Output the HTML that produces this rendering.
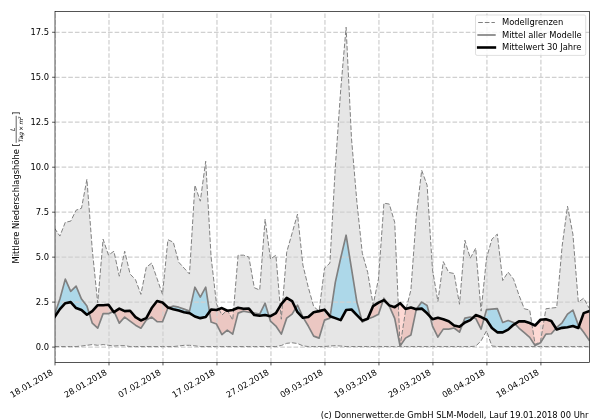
<!DOCTYPE html>
<html lang="de"><head><meta charset="utf-8"><title>Niederschlag</title><style>html,body{margin:0;padding:0;background:#fff;overflow:hidden}</style></head><body>
<svg width="600" height="420" viewBox="0 0 600 420" style="display:block;font-family:'DejaVu Sans','Liberation Sans',sans-serif;font-size:8.37px">
<rect width="600" height="420" fill="#fff"/>
<defs><clipPath id="ax"><rect x="55.0" y="11.6" width="534.5" height="350.9"/></clipPath></defs>
<g clip-path="url(#ax)">
<polygon points="54.50,228.19 59.90,236.10 65.30,222.25 70.70,221.17 76.10,210.20 81.50,208.22 86.90,179.25 92.30,249.95 97.70,303.02 103.10,239.16 108.50,255.17 113.90,251.21 119.30,276.22 124.70,251.21 130.10,274.06 135.50,279.64 140.90,294.39 146.30,267.22 151.70,263.09 157.10,278.74 162.50,294.39 167.90,239.70 173.30,242.22 178.70,262.19 184.10,268.12 189.50,274.06 194.90,185.19 200.30,201.20 205.70,161.26 211.10,257.15 216.50,303.92 221.90,315.08 227.30,310.04 232.70,320.12 238.10,255.17 243.50,255.17 248.90,257.15 254.30,287.73 259.70,290.07 265.10,219.19 270.50,259.13 275.90,255.17 281.30,319.22 286.70,252.11 292.10,233.22 297.50,214.15 302.90,265.07 308.30,287.37 313.70,306.62 319.10,311.12 324.50,268.12 329.90,263.09 335.30,167.20 340.70,89.84 346.10,27.24 351.50,138.42 356.90,202.10 362.30,253.19 367.70,272.44 373.10,304.82 378.50,278.92 383.90,203.18 389.30,204.08 394.70,222.25 400.10,346.20 405.50,311.12 410.90,290.07 416.30,215.77 421.70,170.26 427.10,185.19 432.50,269.74 437.90,301.41 443.30,261.65 448.70,272.44 454.10,273.52 459.50,304.28 464.90,240.24 470.30,258.23 475.70,248.16 481.10,311.12 486.50,258.23 491.90,239.16 497.30,234.12 502.70,280.54 508.10,272.08 513.50,279.10 518.90,294.93 524.30,308.78 529.70,310.04 535.10,344.40 540.50,341.70 545.90,308.78 551.30,308.06 556.70,307.52 562.10,246.36 567.50,206.24 572.90,234.12 578.30,302.12 583.70,298.17 589.10,308.06 589.10,346.56 583.70,346.56 578.30,346.56 572.90,346.56 567.50,346.56 562.10,346.56 556.70,346.56 551.30,346.56 545.90,346.56 540.50,346.56 535.10,346.56 529.70,346.56 524.30,346.56 518.90,346.56 513.50,346.56 508.10,346.56 502.70,346.56 497.30,346.56 491.90,346.02 486.50,330.91 481.10,340.80 475.70,346.20 470.30,346.56 464.90,346.56 459.50,346.56 454.10,346.56 448.70,346.56 443.30,346.56 437.90,346.56 432.50,346.56 427.10,346.56 421.70,346.56 416.30,346.56 410.90,346.56 405.50,346.56 400.10,346.56 394.70,346.56 389.30,346.56 383.90,346.56 378.50,346.56 373.10,346.56 367.70,346.56 362.30,346.56 356.90,346.56 351.50,346.56 346.10,346.56 340.70,346.02 335.30,345.66 329.90,346.02 324.50,346.56 319.10,346.56 313.70,346.56 308.30,346.56 302.90,345.84 297.50,343.50 292.10,342.78 286.70,343.32 281.30,345.48 275.90,346.56 270.50,346.56 265.10,346.56 259.70,346.56 254.30,346.56 248.90,346.56 243.50,346.56 238.10,346.56 232.70,346.56 227.30,346.56 221.90,346.56 216.50,346.56 211.10,346.56 205.70,346.56 200.30,346.56 194.90,345.84 189.50,345.30 184.10,345.30 178.70,346.02 173.30,346.56 167.90,346.56 162.50,346.56 157.10,346.56 151.70,346.56 146.30,346.56 140.90,346.56 135.50,346.56 130.10,346.56 124.70,345.66 119.30,345.66 113.90,346.02 108.50,345.30 103.10,344.58 97.70,345.30 92.30,344.58 86.90,345.30 81.50,346.02 76.10,346.56 70.70,346.56 65.30,346.56 59.90,346.56 54.50,346.56" fill="#808080" fill-opacity="0.2"/>
<polygon points="54.50,314.72 59.90,299.07 65.30,279.10 70.70,291.33 76.10,286.11 81.50,299.07 86.90,306.08 89.15,313.22 89.15,313.22 86.90,314.72 81.50,310.04 76.10,308.06 70.70,302.12 65.30,303.20 59.90,309.14 54.50,317.06" fill="#87ceeb" fill-opacity="0.6"/>
<polygon points="113.31,311.39 113.90,311.12 114.27,311.95 114.27,311.95 113.90,312.20 113.31,311.39" fill="#87ceeb" fill-opacity="0.6"/>
<polygon points="168.71,307.76 173.30,306.08 178.70,307.16 184.10,309.14 189.50,311.12 194.90,287.19 200.30,297.09 205.70,287.19 209.50,311.74 209.50,311.74 205.70,317.06 200.30,318.14 194.90,316.52 189.50,313.10 184.10,312.20 178.70,310.58 173.30,309.14 168.71,307.76" fill="#87ceeb" fill-opacity="0.6"/>
<polygon points="252.38,312.78 254.30,313.10 259.70,314.18 265.10,303.20 268.89,315.84 268.89,315.84 265.10,315.08 259.70,315.80 254.30,315.08 252.38,312.78" fill="#87ceeb" fill-opacity="0.6"/>
<polygon points="295.62,308.32 297.50,305.18 302.90,317.06 303.30,317.72 303.30,317.72 302.90,317.78 297.50,312.20 295.62,308.32" fill="#87ceeb" fill-opacity="0.6"/>
<polygon points="330.18,316.26 335.30,282.34 340.70,258.05 346.10,235.20 351.50,268.66 356.90,302.12 361.76,320.10 361.76,320.10 356.90,315.08 351.50,309.50 346.10,310.04 340.70,320.12 335.30,318.14 330.18,316.26" fill="#87ceeb" fill-opacity="0.6"/>
<polygon points="383.11,300.52 383.90,298.17 387.86,303.97 387.86,303.97 383.90,300.15 383.11,300.52" fill="#87ceeb" fill-opacity="0.6"/>
<polygon points="416.45,309.13 421.70,302.12 427.10,305.54 429.97,316.43 429.97,316.43 427.10,313.28 421.70,308.60 416.45,309.13" fill="#87ceeb" fill-opacity="0.6"/>
<polygon points="462.50,324.37 464.90,318.14 470.30,317.06 472.92,317.67 472.92,317.67 470.30,320.12 464.90,322.45 462.50,324.37" fill="#87ceeb" fill-opacity="0.6"/>
<polygon points="484.04,318.53 486.50,309.68 491.90,309.14 497.30,308.60 502.70,322.45 508.10,320.47 513.50,322.45 514.90,323.90 514.90,323.90 513.50,324.79 508.10,329.65 502.70,332.35 497.30,332.35 491.90,328.03 486.50,319.76 484.04,318.53" fill="#87ceeb" fill-opacity="0.6"/>
<polygon points="555.98,328.34 556.70,327.49 562.10,322.81 567.50,314.18 572.90,310.04 578.30,325.15 579.01,326.07 579.01,326.07 578.30,328.03 572.90,326.05 567.50,327.31 562.10,327.85 556.70,329.47 555.98,328.34" fill="#87ceeb" fill-opacity="0.6"/>
<polygon points="89.15,313.22 92.30,323.17 97.70,328.21 103.10,313.64 108.50,313.64 113.31,311.39 113.31,311.39 108.50,304.82 103.10,305.18 97.70,305.18 92.30,311.12 89.15,313.22" fill="#fa8072" fill-opacity="0.3"/>
<polygon points="114.27,311.95 119.30,323.17 124.70,317.06 130.10,321.19 135.50,325.15 140.90,328.21 146.30,320.12 151.70,317.06 157.10,321.73 162.50,321.73 167.90,308.06 168.71,307.76 168.71,307.76 167.90,307.52 162.50,302.48 157.10,301.05 151.70,308.06 146.30,318.14 140.90,320.47 135.50,317.06 130.10,310.76 124.70,311.12 119.30,308.60 114.27,311.95" fill="#fa8072" fill-opacity="0.3"/>
<polygon points="209.50,311.74 211.10,322.09 216.50,324.07 221.90,334.69 227.30,330.19 232.70,334.15 238.10,313.10 243.50,311.12 248.90,312.20 252.38,312.78 252.38,312.78 248.90,308.60 243.50,308.78 238.10,307.70 232.70,310.04 227.30,310.76 221.90,308.06 216.50,310.04 211.10,309.50 209.50,311.74" fill="#fa8072" fill-opacity="0.3"/>
<polygon points="268.89,315.84 270.50,321.19 275.90,326.05 281.30,334.15 286.70,318.14 292.10,314.18 295.62,308.32 295.62,308.32 292.10,301.05 286.70,297.81 281.30,304.10 275.90,313.10 270.50,316.16 268.89,315.84" fill="#fa8072" fill-opacity="0.3"/>
<polygon points="303.30,317.72 308.30,326.05 313.70,336.13 319.10,338.11 324.50,320.12 329.90,318.14 330.18,316.26 330.18,316.26 329.90,316.16 324.50,309.68 319.10,311.12 313.70,312.20 308.30,317.06 303.30,317.72" fill="#fa8072" fill-opacity="0.3"/>
<polygon points="361.76,320.10 362.30,322.09 367.70,319.04 373.10,317.06 378.50,314.18 383.11,300.52 383.11,300.52 378.50,302.66 373.10,306.08 367.70,318.68 362.30,320.65 361.76,320.10" fill="#fa8072" fill-opacity="0.3"/>
<polygon points="387.86,303.97 389.30,306.08 394.70,318.32 400.10,346.02 405.50,338.11 410.90,335.05 416.30,309.32 416.45,309.13 416.45,309.13 416.30,309.14 410.90,307.52 405.50,308.96 400.10,303.20 394.70,307.16 389.30,305.36 387.86,303.97" fill="#fa8072" fill-opacity="0.3"/>
<polygon points="429.97,316.43 432.50,326.05 437.90,337.03 443.30,329.11 448.70,329.11 454.10,328.03 459.50,332.17 462.50,324.37 462.50,324.37 459.50,326.77 454.10,325.51 448.70,321.19 443.30,319.22 437.90,317.78 432.50,319.22 429.97,316.43" fill="#fa8072" fill-opacity="0.3"/>
<polygon points="472.92,317.67 475.70,318.32 481.10,329.11 484.04,318.53 484.04,318.53 481.10,317.06 475.70,315.08 472.92,317.67" fill="#fa8072" fill-opacity="0.3"/>
<polygon points="514.90,323.90 518.90,328.03 524.30,332.71 529.70,337.39 535.10,345.48 540.50,342.78 545.90,334.15 551.30,333.79 555.98,328.34 555.98,328.34 551.30,321.01 545.90,319.22 540.50,319.76 535.10,325.51 529.70,322.99 524.30,321.37 518.90,321.37 514.90,323.90" fill="#fa8072" fill-opacity="0.3"/>
<polygon points="579.01,326.07 583.70,332.17 589.10,340.08 589.10,311.12 583.70,313.10 579.01,326.07" fill="#fa8072" fill-opacity="0.3"/>
<path d="M55.00,362.5V11.6M108.99,362.5V11.6M162.98,362.5V11.6M216.97,362.5V11.6M270.96,362.5V11.6M324.95,362.5V11.6M378.94,362.5V11.6M432.93,362.5V11.6M486.92,362.5V11.6M540.91,362.5V11.6M55.0,347.10H589.5M55.0,302.12H589.5M55.0,257.15H589.5M55.0,212.18H589.5M55.0,167.20H589.5M55.0,122.23H589.5M55.0,77.25H589.5M55.0,32.28H589.5" fill="none" stroke="#d0d0d0" stroke-width="1.25" stroke-dasharray="4.625 2"/>
<polyline points="54.50,228.19 59.90,236.10 65.30,222.25 70.70,221.17 76.10,210.20 81.50,208.22 86.90,179.25 92.30,249.95 97.70,303.02 103.10,239.16 108.50,255.17 113.90,251.21 119.30,276.22 124.70,251.21 130.10,274.06 135.50,279.64 140.90,294.39 146.30,267.22 151.70,263.09 157.10,278.74 162.50,294.39 167.90,239.70 173.30,242.22 178.70,262.19 184.10,268.12 189.50,274.06 194.90,185.19 200.30,201.20 205.70,161.26 211.10,257.15 216.50,303.92 221.90,315.08 227.30,310.04 232.70,320.12 238.10,255.17 243.50,255.17 248.90,257.15 254.30,287.73 259.70,290.07 265.10,219.19 270.50,259.13 275.90,255.17 281.30,319.22 286.70,252.11 292.10,233.22 297.50,214.15 302.90,265.07 308.30,287.37 313.70,306.62 319.10,311.12 324.50,268.12 329.90,263.09 335.30,167.20 340.70,89.84 346.10,27.24 351.50,138.42 356.90,202.10 362.30,253.19 367.70,272.44 373.10,304.82 378.50,278.92 383.90,203.18 389.30,204.08 394.70,222.25 400.10,346.20 405.50,311.12 410.90,290.07 416.30,215.77 421.70,170.26 427.10,185.19 432.50,269.74 437.90,301.41 443.30,261.65 448.70,272.44 454.10,273.52 459.50,304.28 464.90,240.24 470.30,258.23 475.70,248.16 481.10,311.12 486.50,258.23 491.90,239.16 497.30,234.12 502.70,280.54 508.10,272.08 513.50,279.10 518.90,294.93 524.30,308.78 529.70,310.04 535.10,344.40 540.50,341.70 545.90,308.78 551.30,308.06 556.70,307.52 562.10,246.36 567.50,206.24 572.90,234.12 578.30,302.12 583.70,298.17 589.10,308.06" fill="none" stroke="#808080" stroke-width="1.0" stroke-dasharray="4.625 2" stroke-linejoin="round"/>
<polyline points="54.50,346.56 59.90,346.56 65.30,346.56 70.70,346.56 76.10,346.56 81.50,346.02 86.90,345.30 92.30,344.58 97.70,345.30 103.10,344.58 108.50,345.30 113.90,346.02 119.30,345.66 124.70,345.66 130.10,346.56 135.50,346.56 140.90,346.56 146.30,346.56 151.70,346.56 157.10,346.56 162.50,346.56 167.90,346.56 173.30,346.56 178.70,346.02 184.10,345.30 189.50,345.30 194.90,345.84 200.30,346.56 205.70,346.56 211.10,346.56 216.50,346.56 221.90,346.56 227.30,346.56 232.70,346.56 238.10,346.56 243.50,346.56 248.90,346.56 254.30,346.56 259.70,346.56 265.10,346.56 270.50,346.56 275.90,346.56 281.30,345.48 286.70,343.32 292.10,342.78 297.50,343.50 302.90,345.84 308.30,346.56 313.70,346.56 319.10,346.56 324.50,346.56 329.90,346.02 335.30,345.66 340.70,346.02 346.10,346.56 351.50,346.56 356.90,346.56 362.30,346.56 367.70,346.56 373.10,346.56 378.50,346.56 383.90,346.56 389.30,346.56 394.70,346.56 400.10,346.56 405.50,346.56 410.90,346.56 416.30,346.56 421.70,346.56 427.10,346.56 432.50,346.56 437.90,346.56 443.30,346.56 448.70,346.56 454.10,346.56 459.50,346.56 464.90,346.56 470.30,346.56 475.70,346.20 481.10,340.80 486.50,330.91 491.90,346.02 497.30,346.56 502.70,346.56 508.10,346.56 513.50,346.56 518.90,346.56 524.30,346.56 529.70,346.56 535.10,346.56 540.50,346.56 545.90,346.56 551.30,346.56 556.70,346.56 562.10,346.56 567.50,346.56 572.90,346.56 578.30,346.56 583.70,346.56 589.10,346.56" fill="none" stroke="#808080" stroke-width="1.0" stroke-dasharray="4.625 2" stroke-linejoin="round"/>
<polyline points="54.50,314.72 59.90,299.07 65.30,279.10 70.70,291.33 76.10,286.11 81.50,299.07 86.90,306.08 92.30,323.17 97.70,328.21 103.10,313.64 108.50,313.64 113.90,311.12 119.30,323.17 124.70,317.06 130.10,321.19 135.50,325.15 140.90,328.21 146.30,320.12 151.70,317.06 157.10,321.73 162.50,321.73 167.90,308.06 173.30,306.08 178.70,307.16 184.10,309.14 189.50,311.12 194.90,287.19 200.30,297.09 205.70,287.19 211.10,322.09 216.50,324.07 221.90,334.69 227.30,330.19 232.70,334.15 238.10,313.10 243.50,311.12 248.90,312.20 254.30,313.10 259.70,314.18 265.10,303.20 270.50,321.19 275.90,326.05 281.30,334.15 286.70,318.14 292.10,314.18 297.50,305.18 302.90,317.06 308.30,326.05 313.70,336.13 319.10,338.11 324.50,320.12 329.90,318.14 335.30,282.34 340.70,258.05 346.10,235.20 351.50,268.66 356.90,302.12 362.30,322.09 367.70,319.04 373.10,317.06 378.50,314.18 383.90,298.17 389.30,306.08 394.70,318.32 400.10,346.02 405.50,338.11 410.90,335.05 416.30,309.32 421.70,302.12 427.10,305.54 432.50,326.05 437.90,337.03 443.30,329.11 448.70,329.11 454.10,328.03 459.50,332.17 464.90,318.14 470.30,317.06 475.70,318.32 481.10,329.11 486.50,309.68 491.90,309.14 497.30,308.60 502.70,322.45 508.10,320.47 513.50,322.45 518.90,328.03 524.30,332.71 529.70,337.39 535.10,345.48 540.50,342.78 545.90,334.15 551.30,333.79 556.70,327.49 562.10,322.81 567.50,314.18 572.90,310.04 578.30,325.15 583.70,332.17 589.10,340.08" fill="none" stroke="#808080" stroke-width="1.67" stroke-linejoin="round" stroke-linecap="square"/>
<polyline points="54.50,317.06 59.90,309.14 65.30,303.20 70.70,302.12 76.10,308.06 81.50,310.04 86.90,314.72 92.30,311.12 97.70,305.18 103.10,305.18 108.50,304.82 113.90,312.20 119.30,308.60 124.70,311.12 130.10,310.76 135.50,317.06 140.90,320.47 146.30,318.14 151.70,308.06 157.10,301.05 162.50,302.48 167.90,307.52 173.30,309.14 178.70,310.58 184.10,312.20 189.50,313.10 194.90,316.52 200.30,318.14 205.70,317.06 211.10,309.50 216.50,310.04 221.90,308.06 227.30,310.76 232.70,310.04 238.10,307.70 243.50,308.78 248.90,308.60 254.30,315.08 259.70,315.80 265.10,315.08 270.50,316.16 275.90,313.10 281.30,304.10 286.70,297.81 292.10,301.05 297.50,312.20 302.90,317.78 308.30,317.06 313.70,312.20 319.10,311.12 324.50,309.68 329.90,316.16 335.30,318.14 340.70,320.12 346.10,310.04 351.50,309.50 356.90,315.08 362.30,320.65 367.70,318.68 373.10,306.08 378.50,302.66 383.90,300.15 389.30,305.36 394.70,307.16 400.10,303.20 405.50,308.96 410.90,307.52 416.30,309.14 421.70,308.60 427.10,313.28 432.50,319.22 437.90,317.78 443.30,319.22 448.70,321.19 454.10,325.51 459.50,326.77 464.90,322.45 470.30,320.12 475.70,315.08 481.10,317.06 486.50,319.76 491.90,328.03 497.30,332.35 502.70,332.35 508.10,329.65 513.50,324.79 518.90,321.37 524.30,321.37 529.70,322.99 535.10,325.51 540.50,319.76 545.90,319.22 551.30,321.01 556.70,329.47 562.10,327.85 567.50,327.31 572.90,326.05 578.30,328.03 583.70,313.10 589.10,311.12" fill="none" stroke="#000" stroke-width="2.6" stroke-linejoin="round" stroke-linecap="square"/>
</g>
<path d="M55.00,362.5v2.9M108.99,362.5v2.9M162.98,362.5v2.9M216.97,362.5v2.9M270.96,362.5v2.9M324.95,362.5v2.9M378.94,362.5v2.9M432.93,362.5v2.9M486.92,362.5v2.9M540.91,362.5v2.9M55.0,347.10h-2.9M55.0,302.12h-2.9M55.0,257.15h-2.9M55.0,212.18h-2.9M55.0,167.20h-2.9M55.0,122.23h-2.9M55.0,77.25h-2.9M55.0,32.28h-2.9" fill="none" stroke="#000" stroke-width="0.67"/>
<rect x="55.0" y="11.6" width="534.5" height="350.9" fill="none" stroke="#000" stroke-width="0.67"/>
<text x="49.10" y="350.10" text-anchor="end">0.0</text>
<text x="49.10" y="305.12" text-anchor="end">2.5</text>
<text x="49.10" y="260.15" text-anchor="end">5.0</text>
<text x="49.10" y="215.18" text-anchor="end">7.5</text>
<text x="49.10" y="170.20" text-anchor="end">10.0</text>
<text x="49.10" y="125.23" text-anchor="end">12.5</text>
<text x="49.10" y="80.25" text-anchor="end">15.0</text>
<text x="49.10" y="35.28" text-anchor="end">17.5</text>
<text transform="translate(53.70,374.00) rotate(-30)" text-anchor="end">18.01.2018</text>
<text transform="translate(107.69,374.00) rotate(-30)" text-anchor="end">28.01.2018</text>
<text transform="translate(161.68,374.00) rotate(-30)" text-anchor="end">07.02.2018</text>
<text transform="translate(215.67,374.00) rotate(-30)" text-anchor="end">17.02.2018</text>
<text transform="translate(269.66,374.00) rotate(-30)" text-anchor="end">27.02.2018</text>
<text transform="translate(323.65,374.00) rotate(-30)" text-anchor="end">09.03.2018</text>
<text transform="translate(377.64,374.00) rotate(-30)" text-anchor="end">19.03.2018</text>
<text transform="translate(431.63,374.00) rotate(-30)" text-anchor="end">29.03.2018</text>
<text transform="translate(485.62,374.00) rotate(-30)" text-anchor="end">08.04.2018</text>
<text transform="translate(539.61,374.00) rotate(-30)" text-anchor="end">18.04.2018</text>
<g transform="translate(18.5,263.5) rotate(-90)"><text x="0" y="0.6">Mittlere Niederschlagshöhe</text><text x="117.08" y="0">[</text><text x="134.2" y="-3.5" text-anchor="middle" font-style="italic" font-size="6.2">L</text><path d="M120.7,-2.3H147.7" stroke="#000" stroke-width="0.62"/><text x="134.2" y="4.3" text-anchor="middle" font-style="italic" font-size="5.86" word-spacing="-0.6">Tag × m<tspan dy="-2.1" font-size="4.1">2</tspan></text><text x="148.4" y="0">]</text></g>
<rect x="475.5" y="15.0" width="110.2" height="40.4" rx="1.6" fill="#fff" fill-opacity="0.8" stroke="#ccc" stroke-width="0.8" stroke-opacity="0.8"/>
<path d="M478.2,22.5H494.87" stroke="#808080" stroke-width="1.0" stroke-dasharray="4.625 2"/>
<path d="M478.2,35.0H494.87" stroke="#808080" stroke-width="1.67" stroke-linecap="square"/>
<path d="M478.2,47.5H494.87" stroke="#000" stroke-width="2.6" stroke-linecap="square"/>
<text x="501.97" y="25.30">Modellgrenzen</text>
<text x="501.97" y="37.80">Mittel aller Modelle</text>
<text x="501.97" y="50.30">Mittelwert 30 Jahre</text>
<text x="588.5" y="417.6" text-anchor="end">(c) Donnerwetter.de GmbH SLM-Modell, Lauf 19.01.2018 00 Uhr</text>
</svg>
</body></html>
